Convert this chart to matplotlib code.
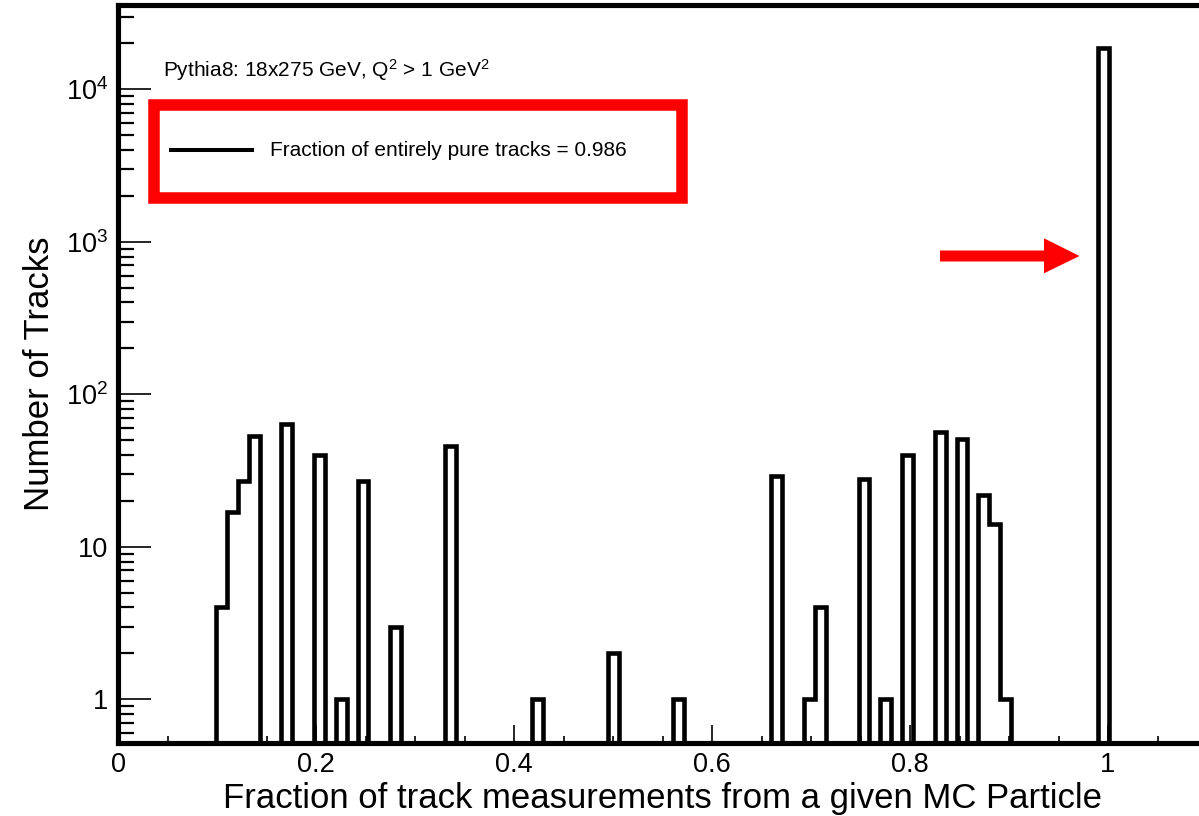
import numpy as np
import matplotlib
matplotlib.use("Agg")
import matplotlib.pyplot as plt
from matplotlib import font_manager, ticker
from matplotlib.patches import Rectangle, Polygon
from matplotlib.lines import Line2D

# histogram: 100 bins from 0 to 1.1, only the filled bins are listed
n_bins = 100
x_range = (0.0, 1.1)
filled_bins = [9, 10, 11, 12, 15, 18, 20, 22, 25, 30, 38, 45, 51,
               60, 63, 64, 68, 70, 72, 75, 77, 79, 80, 81, 90]
bin_counts = [4, 17, 27, 53, 64, 40, 1, 27, 3, 46, 1, 2, 1,
              29, 1, 4, 28, 1, 40, 57, 51, 22, 14, 1, 18600]

x_ticks = [0, 0.2, 0.4, 0.6, 0.8, 1.0]
x_tick_labels = ["0", "0.2", "0.4", "0.6", "0.8", "1"]

header = r"Pythia8: 18x275 GeV, Q$\mathregular{^2}$ > 1 GeV$\mathregular{^2}$"
legend_label = "Fraction of entirely pure tracks = 0.986"
x_title = "Fraction of track measurements from a given MC Particle"
y_title = "Number of Tracks"

W, H = 1199, 816

def fx(px):
  return px / W

def fy(py):
  return 1 - py / H

available = {f.name for f in font_manager.fontManager.ttflist}
main_font = "Liberation Sans"
if "Liberation Sans Narrow" in available:
  tick_font, tick_size = "Liberation Sans Narrow", 21
else:
  tick_font, tick_size = "Liberation Sans", 19.5
plt.rcParams["font.family"] = [main_font, "DejaVu Sans"]

counts = np.zeros(n_bins)
counts[filled_bins] = bin_counts
edges = np.linspace(x_range[0], x_range[1], n_bins + 1)
# empty bins sit below the visible range on the log axis
drawn = np.where(counts > 0, counts, 1e-3)

fig = plt.figure(figsize=(W / 100, H / 100), dpi=100)
ax = fig.add_axes([fx(118), fy(742.7), 1089 / W, 737.7 / H])

ax.stairs(drawn, edges, baseline=1e-3, color="black", linewidth=3.3,
          joinstyle="miter")

ax.set_yscale("log")
ax.set_xlim(*x_range)
ax.set_ylim(0.519, 35700)

ax.set_xticks(x_ticks)
ax.set_xticklabels(x_tick_labels)
ax.xaxis.set_minor_locator(ticker.MultipleLocator(0.05))
ax.yaxis.set_major_locator(ticker.LogLocator(base=10, numticks=20))
ax.yaxis.set_minor_locator(ticker.LogLocator(base=10, subs=np.arange(2, 10), numticks=20))
ax.yaxis.set_minor_formatter(ticker.NullFormatter())

def ylab(v, pos):
  if v < 1.5:
    return "1"
  if v < 15:
    return "10"
  return r"$\mathregular{10^{%d}}$" % round(np.log10(v))

ax.yaxis.set_major_formatter(ticker.FuncFormatter(ylab))

for s in ax.spines.values():
  s.set_linewidth(3.7)
ax.spines["right"].set_visible(False)

ax.tick_params(which="both", direction="in", top=False, right=False,
               labelsize=tick_size, labelfontfamily=tick_font, width=1.2)
ax.tick_params(axis="x", which="major", length=13, pad=7)
ax.tick_params(axis="x", which="minor", length=5)
ax.tick_params(axis="y", which="major", length=24, pad=7)
ax.tick_params(axis="y", which="minor", length=11.5, width=1.6)

ax.set_xlabel(x_title, fontsize=25)
ax.xaxis.set_label_coords(0.5, (742.7 - 808) / 737.7)
ax.xaxis.label.set_va("baseline")
ax.set_ylabel(y_title, fontsize=25)
ax.yaxis.set_label_coords((40 - 118) / 1089, 0.5)
ax.yaxis.label.set_va("center")

fig.text(fx(163), fy(76.7), header, fontsize=15, va="baseline", ha="left")

# legend box
fig.add_artist(Line2D([fx(169), fx(254)], [fy(150), fy(150)], color="black",
                      linewidth=2.9, solid_capstyle="butt"))
fig.text(fx(270), fy(156), legend_label, fontsize=15, va="baseline", ha="left")
fig.add_artist(Rectangle((fx(153.5), fy(198.2)), fx(682.3) - fx(153.5),
                         fy(104.8) - fy(198.2), fill=False, edgecolor="#ff0000",
                         linewidth=8.3, joinstyle="miter",
                         transform=fig.transFigure))

# arrow pointing at the pure-track bin
arrow_px = [(940, 250.5), (1044, 250.5), (1044, 238.3), (1079.5, 256),
            (1044, 273.3), (1044, 261.5), (940, 261.5)]
fig.add_artist(Polygon([(fx(a), fy(b)) for a, b in arrow_px], closed=True,
                       facecolor="#ff0000", edgecolor="none",
                       transform=fig.transFigure))

fig.savefig("out.png", dpi=100)
